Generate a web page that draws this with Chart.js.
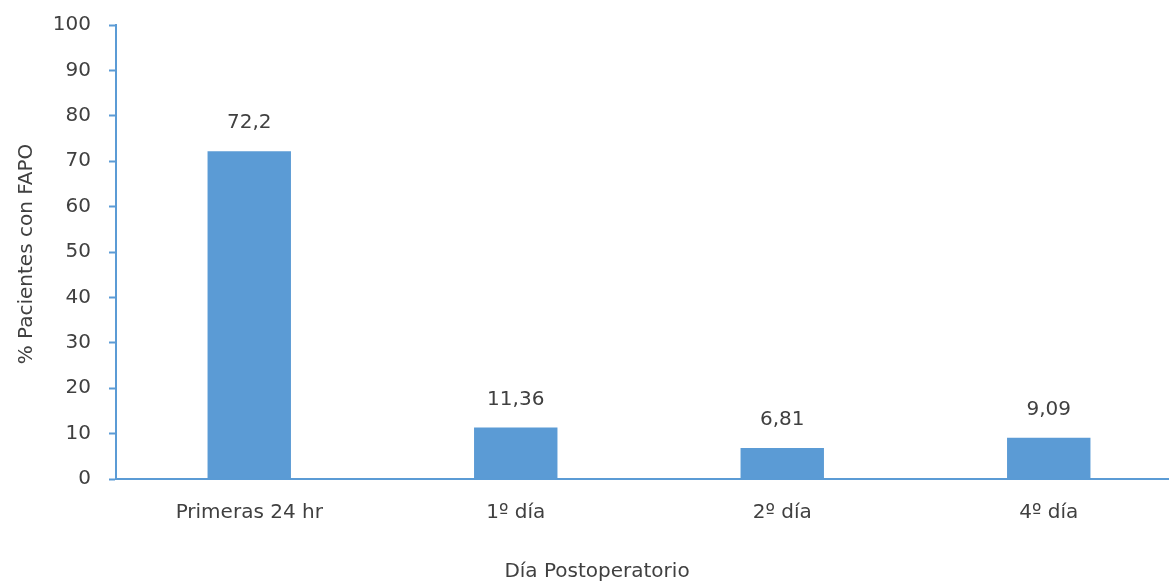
<!DOCTYPE html>
<html>
<head>
<meta charset="utf-8">
<script src="https://cdn.jsdelivr.net/npm/chart.js@4.4.1/dist/chart.umd.min.js"></script>
<style>
  html, body { margin: 0; padding: 0; background: #ffffff; overflow: hidden; }
  #wrap { width: 1182px; height: 583px; }
</style>
</head>
<body>
<div id="wrap"><canvas id="c" width="1182" height="583"></canvas></div>
<script>
// Postoperative day categories and percentage of patients with FAPO
const categories = ["Primeras 24 hr", "1º día", "2º día", "4º día"];
const values = [72.2, 11.36, 6.81, 9.09];
const valueLabels = ["72,2", "11,36", "6,81", "9,09"];
const yTicks = [0, 10, 20, 30, 40, 50, 60, 70, 80, 90, 100];
const xTitle = "Día Postoperatorio";
const yTitle = "% Pacientes con FAPO";

const BLUE = "#5B9BD5";
const TEXT = "#404040";
const FONT = "'DejaVu Sans', sans-serif";
const SIZE = 20;

// Writes each bar's value above it, plus the two axis titles
const annotationPlugin = {
  id: "annotations",
  afterDatasetsDraw(chart) {
    const ctx = chart.ctx;
    const meta = chart.getDatasetMeta(0);
    ctx.save();
    ctx.font = SIZE + "px " + FONT;
    ctx.fillStyle = TEXT;
    ctx.textAlign = "center";
    ctx.textBaseline = "middle";
    meta.data.forEach((bar, i) => {
      ctx.fillText(valueLabels[i], bar.x, bar.y - 28);
    });
    ctx.fillText(xTitle, 597, 572);
    ctx.translate(27, 254);
    ctx.rotate(-Math.PI / 2);
    ctx.fillText(yTitle, 0, 0);
    ctx.restore();
  }
};

new Chart(document.getElementById("c"), {
  type: "bar",
  data: {
    labels: categories,
    datasets: [{
      data: values,
      backgroundColor: BLUE,
      borderWidth: 0,
      barPercentage: 0.313,
      categoryPercentage: 1.0
    }]
  },
  plugins: [annotationPlugin],
  options: {
    responsive: false,
    animation: false,
    layout: { padding: { top: 25, right: 0, bottom: 0, left: 0 } },
    plugins: {
      legend: { display: false },
      tooltip: { enabled: false }
    },
    scales: {
      x: {
        grid: { display: false },
        border: { display: true, color: BLUE, width: 2 },
        ticks: {
          color: TEXT,
          font: { family: FONT, size: SIZE },
          padding: 14,
          maxRotation: 0
        },
        afterFit(scale) {
          scale.height = 104;
          scale.paddingLeft = 0;
          scale.paddingRight = 0;
        }
      },
      y: {
        min: 0,
        max: 100,
        afterBuildTicks(scale) { scale.ticks = yTicks.map(v => ({ value: v })); },
        grid: {
          display: true,
          drawOnChartArea: false,
          drawTicks: true,
          tickLength: 7,
          tickWidth: 2,
          color: BLUE
        },
        border: { display: true, color: BLUE, width: 2 },
        ticks: {
          color: TEXT,
          font: { family: FONT, size: SIZE },
          padding: 18
        },
        afterFit(scale) {
          scale.width = 116;
          scale.paddingTop = 0;
          scale.paddingBottom = 0;
        }
      }
    }
  }
});
</script>
</body>
</html>
